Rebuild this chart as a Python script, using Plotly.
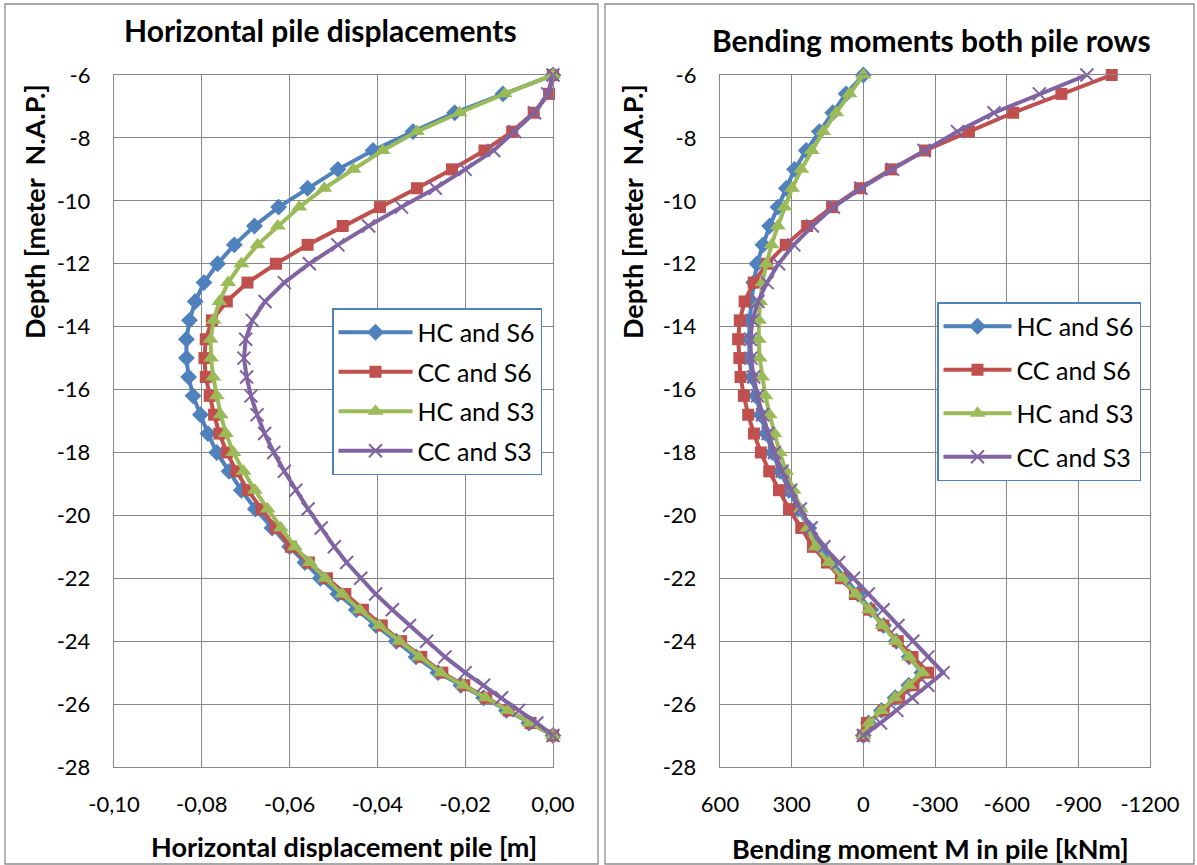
import plotly.graph_objects as go

W, H = 1197, 865

# ---------------- data ----------------
depth = [-6.0, -6.6, -7.2, -7.8, -8.4, -9.0, -9.6, -10.2, -10.8, -11.4, -12.0, -12.6, -13.2,
         -13.8, -14.4, -15.0, -15.6, -16.2, -16.8, -17.4, -18.0, -18.6, -19.2, -19.8, -20.4,
         -21.0, -21.5, -22.0, -22.5, -23.0, -23.5, -24.0, -24.5, -25.0, -25.4, -25.8, -26.2,
         -26.6, -27.0]

series_names = ["HC and S6", "CC and S6", "HC and S3", "CC and S3"]

disp_hc_s6 = [0.0, -0.0114, -0.0224, -0.0319, -0.0410, -0.0490, -0.0559, -0.0625, -0.0680,
              -0.0726, -0.0764, -0.0795, -0.0815, -0.0828, -0.0835, -0.0835, -0.0830, -0.0820,
              -0.0803, -0.0786, -0.0766, -0.0738, -0.0710, -0.0678, -0.0640, -0.0600, -0.0565,
              -0.0530, -0.0490, -0.0448, -0.0403, -0.0357, -0.0312, -0.0262, -0.0210, -0.0158,
              -0.0106, -0.0055, 0.0]
disp_cc_s6 = [0.0, -0.0009, -0.0044, -0.0093, -0.0156, -0.0230, -0.0310, -0.0394, -0.0479,
              -0.0559, -0.0631, -0.0696, -0.0743, -0.0777, -0.0791, -0.0794, -0.0791, -0.0782,
              -0.0772, -0.0760, -0.0743, -0.0721, -0.0695, -0.0664, -0.0632, -0.0597, -0.0556,
              -0.0515, -0.0473, -0.0433, -0.0390, -0.0346, -0.0300, -0.0252, -0.0202, -0.0152,
              -0.0101, -0.0051, 0.0]
disp_hc_s3 = [0.0, -0.0110, -0.0213, -0.0310, -0.0388, -0.0455, -0.0521, -0.0578, -0.0627,
              -0.0673, -0.0710, -0.0740, -0.0760, -0.0773, -0.0780, -0.0779, -0.0774, -0.0766,
              -0.0757, -0.0745, -0.0728, -0.0705, -0.0679, -0.0650, -0.0620, -0.0588, -0.0554,
              -0.0519, -0.0480, -0.0440, -0.0396, -0.0350, -0.0305, -0.0256, -0.0205, -0.0154,
              -0.0103, -0.0053, 0.0]
disp_cc_s3 = [0.0, -0.0012, -0.0042, -0.0087, -0.0135, -0.0200, -0.0268, -0.0345, -0.0420,
              -0.0490, -0.0555, -0.0612, -0.0656, -0.0685, -0.0700, -0.0704, -0.0698, -0.0688,
              -0.0674, -0.0657, -0.0636, -0.0612, -0.0586, -0.0558, -0.0528, -0.0498, -0.0470,
              -0.0438, -0.0404, -0.0366, -0.0327, -0.0288, -0.0246, -0.0200, -0.0158, -0.0117,
              -0.0078, -0.0037, 0.0]

mom_hc_s6 = [0, 72, 128, 184, 239, 288, 322, 357, 392, 420, 445, 459, 469, 476, 478, 476, 466,
             450, 430, 407, 380, 348, 312, 272, 228, 182, 129, 75, 22, -32, -85, -138, -192,
             -245, -190, -133, -76, -22, 0]
mom_cc_s6 = [-1040, -829, -627, -442, -259, -115, 14, 131, 235, 325, 403, 459, 497, 517, 524,
             519, 514, 500, 482, 458, 429, 394, 353, 311, 260, 211, 152, 94, 35, -25, -84, -144,
             -206, -272, -210, -150, -85, -15, 0]
mom_hc_s3 = [0, 58, 114, 168, 216, 260, 298, 330, 358, 384, 406, 422, 432, 437, 438, 434, 424,
             410, 392, 372, 350, 323, 292, 262, 234, 200, 144, 88, 32, -24, -80, -136, -192,
             -248, -190, -132, -75, -25, 0]
mom_cc_s3 = [-936, -737, -547, -394, -254, -122, 10, 125, 213, 291, 355, 403, 441, 464, 473,
             470, 459, 443, 422, 399, 372, 340, 304, 264, 219, 165, 103, 41, -21, -83, -145,
             -207, -270, -334, -270, -205, -140, -72, 0]

y_ticks = [-28, -26, -24, -22, -20, -18, -16, -14, -12, -10, -8, -6]
y_ticklabels = ["-28", "-26", "-24", "-22", "-20", "-18", "-16", "-14", "-12", "-10", "-8", "-6"]
x1_ticks = [-0.10, -0.08, -0.06, -0.04, -0.02, 0.0]
x1_ticklabels = ["-0,10", "-0,08", "-0,06", "-0,04", "-0,02", "0,00"]
x2_ticks = [600, 300, 0, -300, -600, -900, -1200]
x2_ticklabels = ["600", "300", "0", "-300", "-600", "-900", "-1200"]

# ---------------- styles ----------------
FONT = "Lato, 'Open Sans', sans-serif"
colors = ["#4F81BD", "#C0504D", "#9BBB59", "#8064A2"]
symbols = ["diamond", "square", "triangle-up", "x-thin"]
msizes = [13, 12, 14, 13]
GRID = "#878787"

fig = go.Figure()

left_data = [disp_hc_s6, disp_cc_s6, disp_hc_s3, disp_cc_s3]
right_data = [mom_hc_s6, mom_cc_s6, mom_hc_s3, mom_cc_s3]


def marker_for(i):
    if symbols[i] == "x-thin":
        return dict(symbol="x-thin", size=msizes[i], color=colors[i],
                    line=dict(color=colors[i], width=2))
    return dict(symbol=symbols[i], size=msizes[i], color=colors[i],
                line=dict(color=colors[i], width=0))


for i, name in enumerate(series_names):
    fig.add_trace(go.Scatter(
        x=left_data[i], y=depth, mode="lines+markers", name=name,
        line=dict(color=colors[i], width=4), marker=marker_for(i),
        xaxis="x", yaxis="y", legend="legend", legendgroup="L" + str(i),
        cliponaxis=False))

for i, name in enumerate(series_names):
    fig.add_trace(go.Scatter(
        x=right_data[i], y=depth, mode="lines+markers", name=name,
        line=dict(color=colors[i], width=4), marker=marker_for(i),
        xaxis="x2", yaxis="y2", legend="legend2", legendgroup="R" + str(i),
        cliponaxis=False))

ydom = [1 - 767 / H, 1 - 75 / H]
axis_common = dict(showgrid=True, gridcolor=GRID, gridwidth=1.4, showline=True,
                   linecolor=GRID, linewidth=1.4, mirror=True, zeroline=False,
                   tickfont=dict(family=FONT, size=22, color="black"), ticks="",
                   tickmode="array", automargin=False)

fig.update_layout(
    template="none",
    width=W, height=H, margin=dict(l=0, r=0, t=0, b=0, pad=0),
    paper_bgcolor="white", plot_bgcolor="white",
    font=dict(family=FONT, color="black"),
    xaxis=dict(domain=[114 / W, 553 / W], range=[-0.10, 0.0], anchor="y",
               tickvals=x1_ticks, ticktext=x1_ticklabels, ticklabelstandoff=17,
               **axis_common),
    yaxis=dict(domain=ydom, range=[-28, -6], anchor="x",
               tickvals=y_ticks, ticktext=y_ticklabels, ticklabelstandoff=18,
               **axis_common),
    xaxis2=dict(domain=[720 / W, 1150 / W], range=[600, -1200], anchor="y2",
                tickvals=x2_ticks, ticktext=x2_ticklabels, ticklabelstandoff=17,
                **axis_common),
    yaxis2=dict(domain=ydom, range=[-28, -6], anchor="x2",
                tickvals=y_ticks, ticktext=y_ticklabels, ticklabelstandoff=18,
                **axis_common),
    legend=dict(x=332 / W, y=1 - 308 / H, xanchor="left", yanchor="top",
                bgcolor="white", bordercolor="#4F81BD", borderwidth=1.5,
                font=dict(family=FONT, size=25, color="black"),
                tracegroupgap=4, itemwidth=74),
    legend2=dict(x=937 / W, y=1 - 302 / H, xanchor="left", yanchor="top",
                 bgcolor="white", bordercolor="#4F81BD", borderwidth=1.5,
                 font=dict(family=FONT, size=25, color="black"),
                 tracegroupgap=8, itemwidth=68),
    showlegend=True,
)

# panel borders
for x0, x1 in [(5, 598), (605, 1194)]:
    fig.add_shape(type="rect", xref="paper", yref="paper",
                  x0=x0 / W, x1=x1 / W, y0=1 - 864 / H, y1=1 - 4 / H,
                  line=dict(color="#8c8c8c", width=1.3), fillcolor="rgba(0,0,0,0)",
                  layer="below")

title_font = dict(family=FONT, size=30, color="black", weight="bold")
axis_title_font = dict(family=FONT, size=27, color="black", weight="bold")

annos = [
    dict(text="Horizontal pile displacements", x=320 / W, y=1 - 30 / H, font=title_font),
    dict(text="Bending moments both pile rows", x=931 / W, y=1 - 40 / H, font=title_font),
    dict(text="Horizontal displacement pile [m]", x=344 / W, y=1 - 846 / H, font=axis_title_font),
    dict(text="Bending moment M in pile [kNm]", x=930 / W, y=1 - 848 / H, font=axis_title_font),
    dict(text="Depth [meter  N.A.P.]", x=34 / W, y=1 - 212 / H, font=axis_title_font, textangle=-90),
    dict(text="Depth [meter  N.A.P.]", x=632 / W, y=1 - 212 / H, font=axis_title_font, textangle=-90),
]
for a in annos:
    fig.add_annotation(xref="paper", yref="paper", showarrow=False,
                       xanchor="center", yanchor="middle", **a)

fig.write_html("out.html", config={"displayModeBar": False},
               post_script="document.body.style.margin='0';document.body.style.padding='0';")
